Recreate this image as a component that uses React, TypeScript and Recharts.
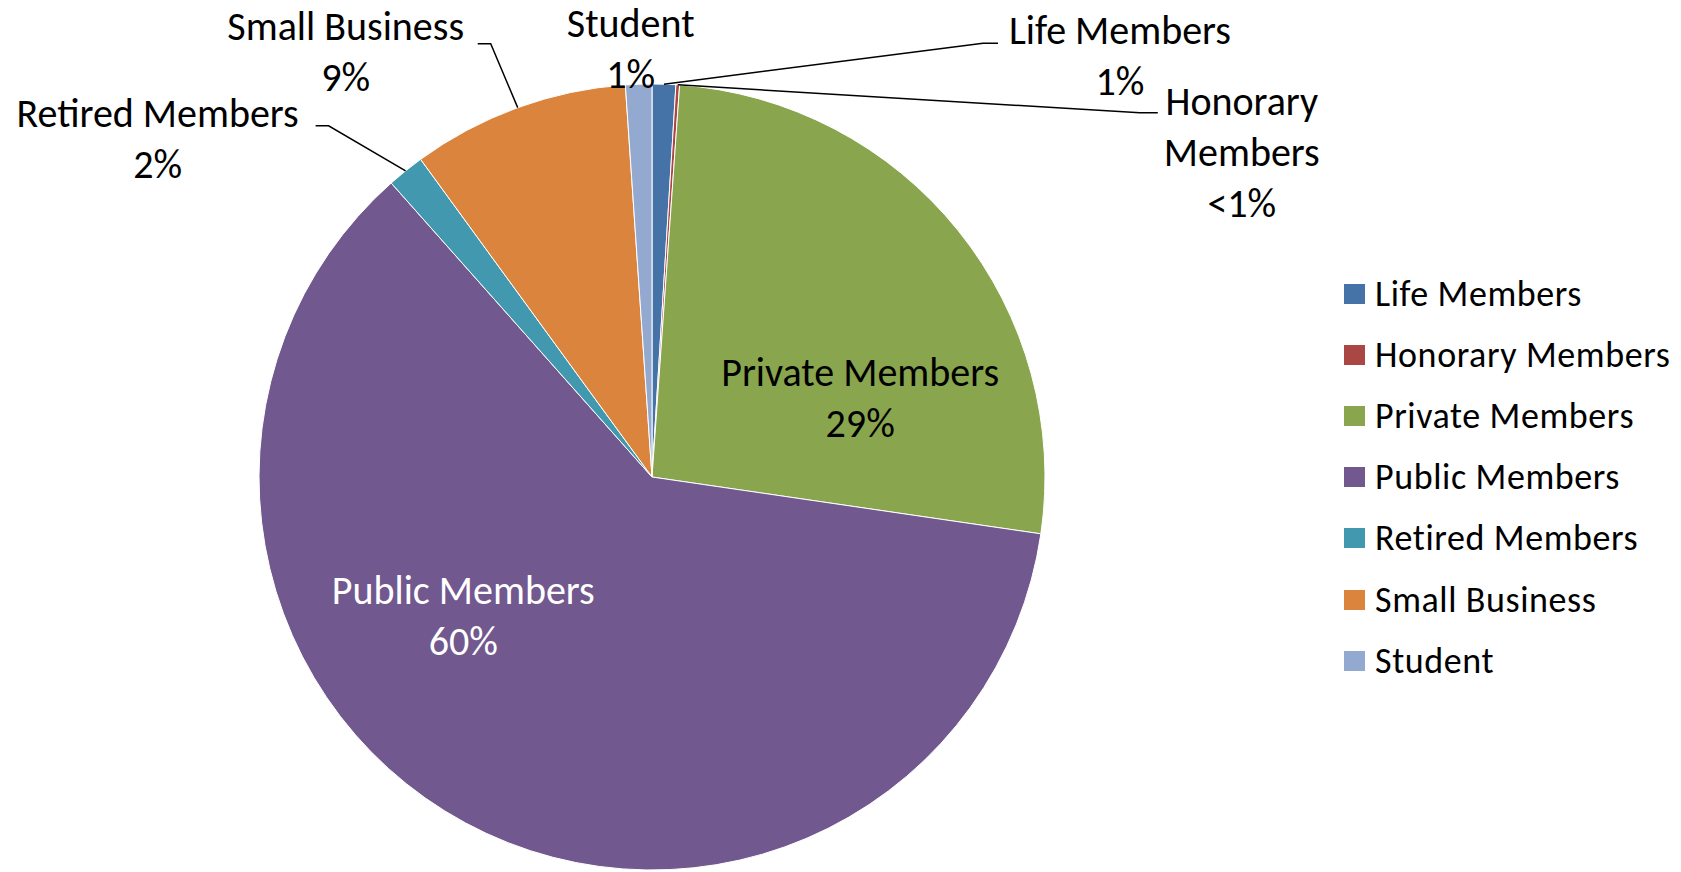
import { Cell, Legend, Pie, PieChart } from 'recharts';

const categories = [
  'Life Members',
  'Honorary Members',
  'Private Members',
  'Public Members',
  'Retired Members',
  'Small Business',
  'Student',
];
const shares = [0.97, 0.15, 26.19, 61.14, 1.53, 8.94, 1.08];
const shareLabels = ['1%', '<1%', '29%', '60%', '2%', '9%', '1%'];
const colors = ['#4572A7', '#AA4643', '#89A54E', '#71588F', '#4198AF', '#DB843D', '#93A9CF'];

const data = categories.map((name, i) => ({ name, value: shares[i] }));

const FONT = 'Carlito, Calibri, Lato, sans-serif';
const RADIAN = Math.PI / 180;
const LINE_H = 51;

// label placement relative to the slice's outer edge midpoint
// lead = [end, knee] x offsets from the label centre, hy = y offset from first baseline
type Placement = {
  dx: number;
  dy: number;
  wrap?: boolean;
  color?: string;
  lead?: [number, number];
  hy?: number;
};
const placements: Placement[] = [
  { dx: 456, dy: -40, lead: [-122, -137], hy: -1 },
  { dx: 564, dy: 30, wrap: true, lead: [-84, -102], hy: -2 },
  { dx: -98, dy: 155 },
  { dx: -2, dy: -219, color: '#fff' },
  { dx: -248, dy: -44, lead: [158, 171], hy: -1 },
  { dx: -172, dy: -68, lead: [132, 145], hy: 4 },
  { dx: -8, dy: -47 },
];

const renderLabel = (props: any) => {
  const { cx, cy, midAngle, outerRadius, index } = props;
  const ex = cx + outerRadius * Math.cos(-midAngle * RADIAN);
  const ey = cy + outerRadius * Math.sin(-midAngle * RADIAN);
  const p = placements[index];
  const tx = ex + p.dx;
  const ty = ey + p.dy;
  const name = categories[index];
  const lines = p.wrap ? [...name.split(' '), shareLabels[index]] : [name, shareLabels[index]];
  return (
    <g key={`lbl-${index}`}>
      {p.lead && (
        <polyline
          points={`${ex},${ey} ${tx + p.lead[1]},${ty + (p.hy ?? 0)} ${tx + p.lead[0]},${ty + (p.hy ?? 0)}`}
          fill="none"
          stroke="#000"
          strokeWidth={1.5}
        />
      )}
      <text
        x={tx}
        y={ty}
        textAnchor="middle"
        fill={p.color ?? '#000'}
        fontFamily={FONT}
        fontSize={40}
      >
        {lines.map((l, i) => (
          <tspan key={i} x={tx} y={ty + i * LINE_H}>
            {l}
          </tspan>
        ))}
      </text>
    </g>
  );
};

const renderLegend = () => (
  <div style={{ fontFamily: FONT, fontSize: 36, letterSpacing: 0.6, color: '#000' }}>
    {categories.map((name, i) => (
      <div key={name} style={{ height: 61.2, display: 'flex', alignItems: 'center' }}>
        <span
          style={{
            display: 'inline-block',
            width: 21,
            height: 20,
            background: colors[i],
            marginRight: 10,
          }}
        />
        <span style={{ whiteSpace: 'nowrap' }}>{name}</span>
      </div>
    ))}
  </div>
);

const App = () => (
  <div style={{ position: 'absolute', left: 0, top: 0, background: '#fff' }}>
    <PieChart width={1681} height={872} margin={{ top: 0, right: 0, bottom: 0, left: 0 }}>
      <Pie
        data={data}
        dataKey="value"
        nameKey="name"
        cx={652}
        cy={477}
        outerRadius={393}
        startAngle={90}
        endAngle={-270}
        stroke="#fff"
        strokeWidth={1}
        label={renderLabel}
        labelLine={false}
        isAnimationActive={false}
      >
        {data.map((d, i) => (
          <Cell key={d.name} fill={colors[i]} />
        ))}
      </Pie>
      <Legend
        content={renderLegend}
        wrapperStyle={{ left: 1344, top: 263, width: 337, height: 440 }}
      />
    </PieChart>
  </div>
);

export default App;
